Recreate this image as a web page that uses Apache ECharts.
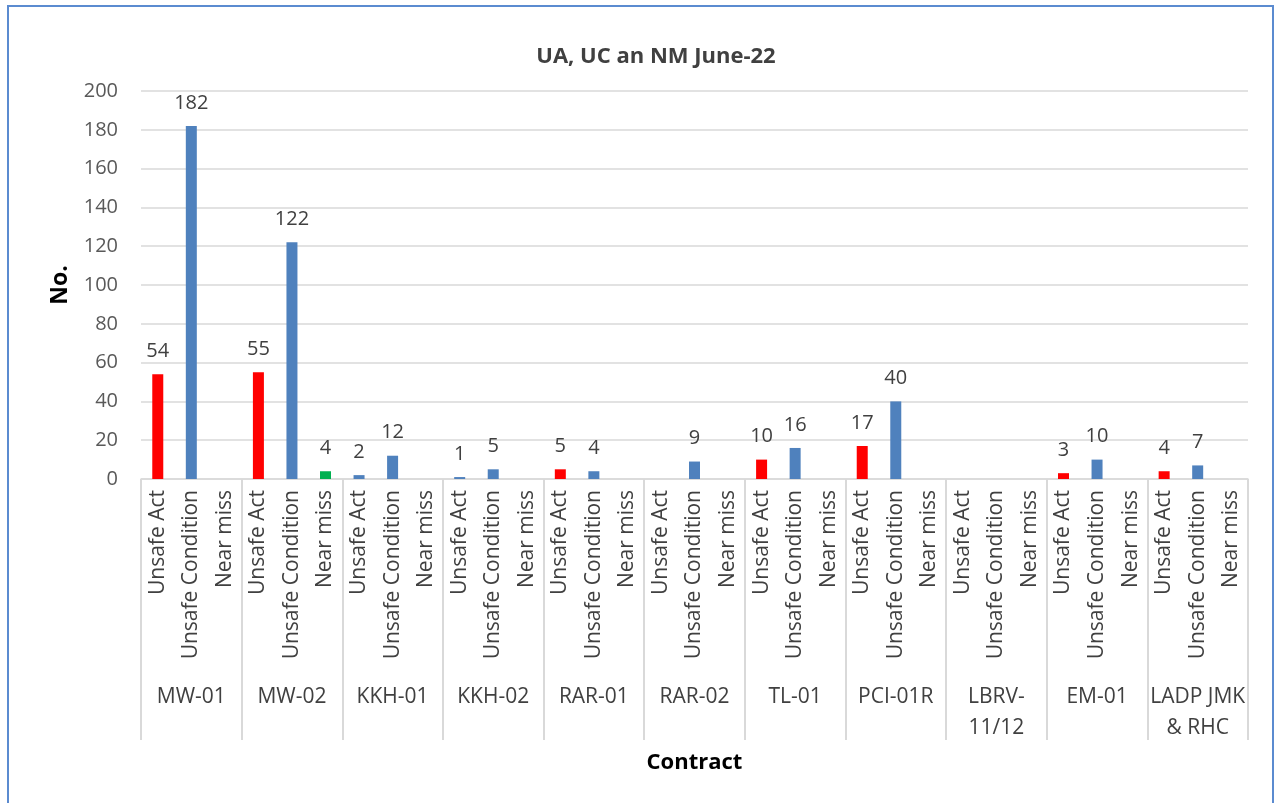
<!DOCTYPE html>
<html>
<head>
<meta charset="utf-8">
<title>UA, UC an NM June-22</title>
<script src="https://cdn.jsdelivr.net/npm/echarts@6/dist/echarts.min.js"></script>
<style>
  html, body { margin: 0; padding: 0; background: #fff; overflow: hidden; }
  #frame {
    position: absolute; left: 7px; top: 5px; width: 1267px; height: 820px;
    border: 2px solid #5b8bd0; box-sizing: border-box;
  }
  #chart { position: absolute; left: 0; top: 0; width: 1277px; height: 803px; }
</style>
</head>
<body>
<div id="frame"></div>
<div id="chart"></div>
<script>
// contracts (outer category level) and the three kinds (inner level)
const contracts = ["MW-01", "MW-02", "KKH-01", "KKH-02", "RAR-01", "RAR-02", "TL-01", "PCI-01R", "LBRV-\n11/12", "EM-01", "LADP JMK\n& RHC"];
const kinds = ["Unsafe Act", "Unsafe Condition", "Near miss"];

// values per contract, null = no bar
const unsafeAct = [54, 55, 2, 1, 5, null, 10, 17, null, 3, 4];
const unsafeCondition = [182, 122, 12, 5, 4, 9, 16, 40, null, 10, 7];
const nearMiss = [null, 4, null, null, null, null, null, null, null, null, null];

const yTicks = [0, 20, 40, 60, 80, 100, 120, 140, 160, 180, 200];

const font = "'Open Sans', 'Noto Sans', sans-serif";
const colors = { act: "#ff0000", cond: "#4f81bd", near: "#00b050" };

// flatten to 33 slots (contract x kind)
let cats = [];
contracts.forEach(() => kinds.forEach(k => cats.push(k)));

function spread(arr, pos) {
  let out = [];
  arr.forEach((v, i) => {
    for (let j = 0; j < 3; j++) {
      if (j !== pos || v === null) { out.push(null); continue; }
      // the two small KKH "Unsafe Act" bars are drawn blue in the original
      if (pos === 0 && (contracts[i] === "KKH-01" || contracts[i] === "KKH-02")) {
        out.push({ value: v, itemStyle: { color: colors.cond } });
      } else {
        out.push(v);
      }
    }
  });
  return out;
}

let chart = echarts.init(document.getElementById("chart"));

const barLabel = {
  show: true,
  position: "top",
  distance: 13,
  fontFamily: font,
  fontSize: 20,
  color: "#404040"
};

let option = {
  animation: false,
  textStyle: { fontFamily: font },
  title: {
    text: "UA, UC an NM June-22",
    left: 651,
    top: 41,
    textAlign: "center",
    textStyle: { fontFamily: font, fontSize: 22, fontWeight: "bold", color: "#404040" }
  },
  grid: { left: 141, right: 29, top: 91, bottom: 324, containLabel: false },
  xAxis: [
    {
      type: "category",
      data: cats,
      axisLine: { lineStyle: { color: "#d9d9d9", width: 1.5 } },
      axisTick: { show: false },
      axisLabel: {
        interval: 0,
        rotate: 90,
        margin: 11,
        fontFamily: font,
        fontSize: 21,
        color: "#404040"
      }
    },
    {
      type: "category",
      data: contracts,
      position: "bottom",
      axisLine: { show: false },
      axisTick: { show: true, length: 261, lineStyle: { color: "#d9d9d9", width: 2 } },
      axisLabel: {
        interval: 0,
        margin: 203,
        fontFamily: font,
        fontSize: 21,
        lineHeight: 31,
        color: "#404040"
      },
      name: "Contract",
      nameLocation: "middle",
      nameGap: 273,
      nameTextStyle: { fontFamily: font, fontSize: 22, fontWeight: "bold", color: "#000" }
    }
  ],
  yAxis: {
    type: "value",
    min: yTicks[0],
    max: yTicks[yTicks.length - 1],
    interval: 20,
    name: "No.",
    nameLocation: "middle",
    nameGap: 69,
    nameTextStyle: { fontFamily: font, fontSize: 23, fontWeight: "bold", color: "#000" },
    axisLine: { show: false },
    axisTick: { show: false },
    axisLabel: { margin: 23, fontFamily: font, fontSize: 20, color: "#595959" },
    splitLine: { lineStyle: { color: "#d9d9d9", width: 1.5 } }
  },
  series: [
    { name: kinds[0], type: "bar", stack: "all", barWidth: 11,
      itemStyle: { color: colors.act }, label: barLabel, data: spread(unsafeAct, 0) },
    { name: kinds[1], type: "bar", stack: "all", barWidth: 11,
      itemStyle: { color: colors.cond }, label: barLabel, data: spread(unsafeCondition, 1) },
    { name: kinds[2], type: "bar", stack: "all", barWidth: 11,
      itemStyle: { color: colors.near }, label: barLabel, data: spread(nearMiss, 2) }
  ]
};

chart.setOption(option);
</script>
</body>
</html>
